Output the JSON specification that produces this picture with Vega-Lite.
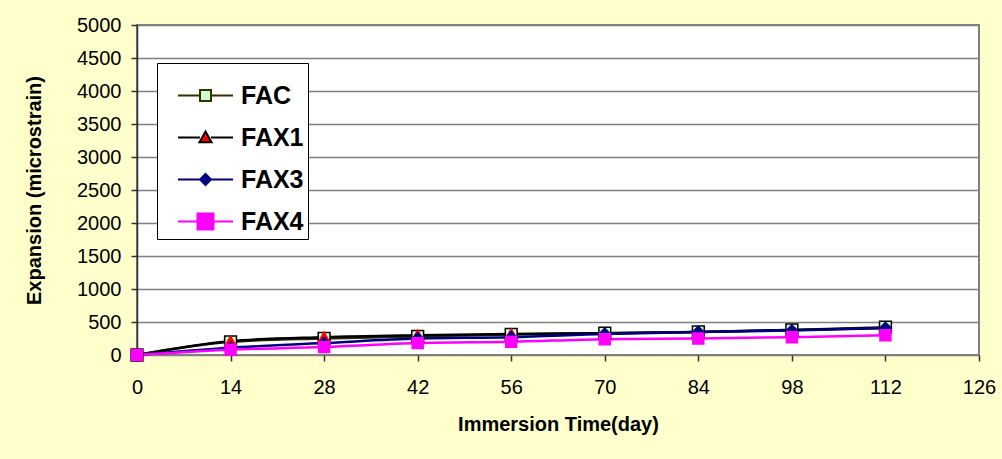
{
  "$schema": "https://vega.github.io/schema/vega-lite/v6.json",
  "autosize": {"type": "none"},
  "width": 842,
  "height": 330,
  "padding": {"left": 137, "top": 25, "right": 23, "bottom": 104},
  "background": "#FFFFCC",
  "config": {
    "font": "Liberation Sans",
    "view": {"fill": "white", "stroke": "#808080", "strokeWidth": 2},
    "axis": {"labelFont": "Liberation Sans", "labelFontSize": 20, "labelColor": "black", "titleFont": "Liberation Sans", "titleFontSize": 20, "titleFontWeight": "bold", "titleColor": "black", "tickColor": "#333333", "tickWidth": 1.5, "domainColor": "#333333", "domainWidth": 1.5},
    "legend": {"orient": "none", "legendX": 20, "legendY": 38, "fillColor": "white", "strokeColor": "black", "padding": 4, "symbolSize": 3025, "symbolOpacity": 1, "symbolStrokeWidth": 2, "symbolOffset": 16, "labelFont": "Liberation Sans", "labelFontSize": 25, "labelFontWeight": "bold", "labelColor": "black", "labelOffset": 7, "rowPadding": 0}
  },
  "data": {
    "values": [
      {"day": 0, "series": "FAC", "value": 0},
      {"day": 14, "series": "FAC", "value": 200},
      {"day": 28, "series": "FAC", "value": 250},
      {"day": 42, "series": "FAC", "value": 280},
      {"day": 56, "series": "FAC", "value": 310},
      {"day": 70, "series": "FAC", "value": 330},
      {"day": 84, "series": "FAC", "value": 350},
      {"day": 98, "series": "FAC", "value": 380},
      {"day": 112, "series": "FAC", "value": 420},
      {"day": 0, "series": "FAX1", "value": 0},
      {"day": 14, "series": "FAX1", "value": 210},
      {"day": 28, "series": "FAX1", "value": 270},
      {"day": 42, "series": "FAX1", "value": 300},
      {"day": 56, "series": "FAX1", "value": 320},
      {"day": 70, "series": "FAX1", "value": 330},
      {"day": 84, "series": "FAX1", "value": 350},
      {"day": 98, "series": "FAX1", "value": 380},
      {"day": 112, "series": "FAX1", "value": 410},
      {"day": 0, "series": "FAX3", "value": 0},
      {"day": 14, "series": "FAX3", "value": 110},
      {"day": 28, "series": "FAX3", "value": 180},
      {"day": 42, "series": "FAX3", "value": 250},
      {"day": 56, "series": "FAX3", "value": 270},
      {"day": 70, "series": "FAX3", "value": 320},
      {"day": 84, "series": "FAX3", "value": 350},
      {"day": 98, "series": "FAX3", "value": 370},
      {"day": 112, "series": "FAX3", "value": 410},
      {"day": 0, "series": "FAX4", "value": 0},
      {"day": 14, "series": "FAX4", "value": 80},
      {"day": 28, "series": "FAX4", "value": 120},
      {"day": 42, "series": "FAX4", "value": 180},
      {"day": 56, "series": "FAX4", "value": 200},
      {"day": 70, "series": "FAX4", "value": 240},
      {"day": 84, "series": "FAX4", "value": 250},
      {"day": 98, "series": "FAX4", "value": 270},
      {"day": 112, "series": "FAX4", "value": 300}
    ]
  },
  "encoding": {
    "x": {
      "field": "day", "type": "quantitative",
      "scale": {"domain": [0, 126], "nice": false, "zero": false},
      "axis": {"title": "Immersion Time(day)", "values": [0, 14, 28, 42, 56, 70, 84, 98, 112, 126], "grid": false, "tickSize": 6, "labelPadding": 16, "titlePadding": 17, "domain": false, "labelFlush": false}
    },
    "y": {
      "field": "value", "type": "quantitative",
      "scale": {"domain": [0, 5000], "nice": false},
      "axis": {"title": "Expansion (microstrain)", "format": "d", "values": [0, 500, 1000, 1500, 2000, 2500, 3000, 3500, 4000, 4500, 5000], "grid": true, "gridColor": "#808080", "gridWidth": 1.5, "gridOpacity": 1, "tickSize": 6, "labelPadding": 10, "titlePadding": 32, "labelFlush": false}
    }
  },
  "layer": [
    {
      "mark": {"type": "line", "strokeWidth": 2.5, "interpolate": "monotone"},
      "encoding": {
        "stroke": {"field": "series", "type": "nominal", "legend": null,
          "scale": {"domain": ["FAC", "FAX1", "FAX3", "FAX4"], "range": ["#333300", "#000000", "#000080", "#FF00FF"]}}
      }
    },
    {
      "mark": {"type": "point", "filled": true, "opacity": 1, "strokeWidth": 1.5},
      "encoding": {
        "shape": {"field": "series", "type": "nominal", "legend": null,
          "scale": {"domain": ["FAC", "FAX1", "FAX3", "FAX4"], "range": ["square", "triangle-up", "diamond", "square"]}},
        "fill": {"field": "series", "type": "nominal", "legend": null,
          "scale": {"domain": ["FAC", "FAX1", "FAX3", "FAX4"], "range": ["#CCFFCC", "#FF0000", "#000080", "#FF00FF"]}},
        "stroke": {"field": "series", "type": "nominal", "legend": null,
          "scale": {"domain": ["FAC", "FAX1", "FAX3", "FAX4"], "range": ["#000000", "#FF0000", "#000080", "#FF00FF"]}},
        "size": {"field": "series", "type": "nominal", "legend": null,
          "scale": {"domain": ["FAC", "FAX1", "FAX3", "FAX4"], "range": [140, 120, 120, 260]}}
      }
    },
    {
      "mark": {"type": "point", "filled": true, "opacity": 0},
      "encoding": {
        "shape": {"field": "series", "type": "nominal",
          "scale": {"domain": ["FAC", "FAX1", "FAX3", "FAX4"], "range": [
            "M-1,0H-0.2M0.2,0H1M-0.2,-0.2H0.2V0.2H-0.2Z",
            "M-1,0H-0.2M0.2,0H1M0,-0.22L0.22,0.17H-0.22Z",
            "M-1,0H-0.2M0.2,0H1M0,-0.2L0.2,0L0,0.2L-0.2,0Z",
            "M-1,0H-0.29M0.29,0H1M-0.29,-0.29H0.29V0.29H-0.29Z"]},
          "legend": {"title": null}
        },
        "fill": {"field": "series", "type": "nominal",
          "scale": {"domain": ["FAC", "FAX1", "FAX3", "FAX4"], "range": ["#CCFFCC", "#FF0000", "#000080", "#FF00FF"]},
          "legend": {"title": null}
        },
        "stroke": {"field": "series", "type": "nominal",
          "scale": {"domain": ["FAC", "FAX1", "FAX3", "FAX4"], "range": ["#333300", "#000000", "#000080", "#FF00FF"]},
          "legend": {"title": null}
        }
      }
    }
  ],
  "resolve": {"scale": {"shape": "independent", "fill": "independent", "stroke": "independent", "size": "independent"}}
}
